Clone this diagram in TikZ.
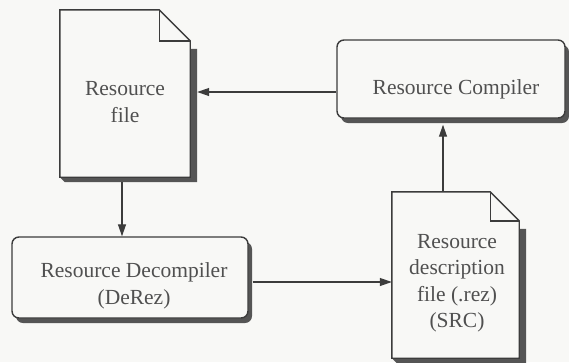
\documentclass[tikz,border=0pt]{standalone}
\usepackage{fontspec}
\setmainfont{Liberation Serif}
\usetikzlibrary{calc,arrows.meta,shadows}

\definecolor{paper}{HTML}{F8F8F6}
\definecolor{ink}{HTML}{3C3C3C}
\definecolor{inktext}{HTML}{505050}
\definecolor{shadowc}{HTML}{555555}

\tikzset{
  lbl/.style={text=inktext, align=center, font=\fontsize{21.5}{26.5}\selectfont},
  docnode/.style={draw=none, inner sep=0pt},
  roundbox/.style={draw=ink, line width=1.4pt, fill=paper, rounded corners=7pt,
    inner sep=0pt,
    drop shadow={shadow xshift=4pt, shadow yshift=-5pt, fill=shadowc, opacity=1}},
  docline/.style={draw=ink, line width=1.4pt, line join=miter},
  arr/.style={draw=ink, line width=1.2pt, -{Triangle[length=12pt,width=8pt]}},
}

% document sheet with folded corner and drop shadow: #1 node, #2 fold size
\newcommand{\drawdoc}[2]{%
  \fill[shadowc] ($(#1.north east)+(0,#2+8)$) -- ($(#1.north east)+(7,#2+8)$)
    -- ($(#1.south east)+(7,5)$) -- ($(#1.south west)+(5,5)$)
    -- (#1.south west) -- (#1.south east) -- cycle;
  \filldraw[docline, fill=paper] (#1.north west) -- ($(#1.north east)+(-#2,0)$)
    -- ($(#1.north east)+(0,#2)$) -- (#1.south east) -- (#1.south west) -- cycle;
  \draw[docline] ($(#1.north east)+(-#2,0)$) -- ($(#1.north east)+(-#2,#2)$)
    -- ($(#1.north east)+(0,#2)$);
}

\begin{document}
\begin{tikzpicture}[x=1pt, y=-1pt]
  \fill[paper] (0,0) rectangle (569,362);
  \useasboundingbox (0,0) rectangle (569,362);

  % sheets
  \node[docnode, minimum width=130pt, minimum height=167pt] (rfdoc) at (125,93.5) {};
  \drawdoc{rfdoc}{31}
  \node[docnode, minimum width=127pt, minimum height=166pt] (srcdoc) at (455.5,275) {};
  \drawdoc{srcdoc}{29}

  % rounded tool boxes
  \node[roundbox, minimum width=228pt, minimum height=78pt] (compbox) at (451,79) {};
  \node[roundbox, minimum width=236pt, minimum height=81pt] (decompbox) at (130,277.5) {};

  % labels
  \node[lbl] (rf) at (125,102) {Resource\\file};
  \node[lbl] (comp) at (456,89) {Resource Compiler};
  \node[lbl] (decomp) at (134,286) {Resource Decompiler\\(DeRez)};
  \node[lbl] (src) at (457,283) {Resource\\description\\file (.rez)\\(SRC)};

  % connectors
  \coordinate (rfedge) at ($(rfdoc.east)+(7,0)$);
  \coordinate (a1) at ($(compbox.west)+(0,13)$);
  \draw[arr] (a1) -- (a1 -| rfedge);

  \coordinate (a2) at ($(rfdoc.south)+(-3,5)$);
  \draw[arr] (a2) -- (a2 |- decompbox.north);

  \coordinate (a3) at ($(decompbox.east)+(4,4.5)$);
  \draw[arr] (a3) -- (a3 -| srcdoc.west);

  \coordinate (compfoot) at ($(compbox.south)+(0,6)$);
  \coordinate (a4) at ($(srcdoc.north)+(-12.5,0)$);
  \draw[arr] (a4) -- (a4 |- compfoot);
\end{tikzpicture}
\end{document}
